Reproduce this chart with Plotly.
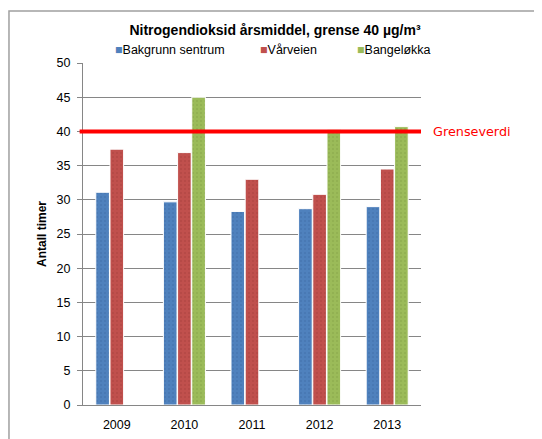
import plotly.graph_objects as go

years = ["2009", "2010", "2011", "2012", "2013"]
bakgrunn = [31.1, 29.7, 28.3, 28.7, 29.0]
varveien = [37.4, 36.9, 33.0, 30.8, 34.5]
bangelokka = [None, 45.0, None, 40.3, 40.7]
series_names = ["Bakgrunn sentrum", "Vårveien", "Bangeløkka"]
colors = ["#4F81BD", "#C0504D", "#9BBB59"]
dark = ["#3E6BA3", "#A33F3C", "#82A045"]
grense = 40

font = "Liberation Sans"
fig = go.Figure()
for name, vals, c, d in zip(series_names, [bakgrunn, varveien, bangelokka], colors, dark):
    fig.add_trace(go.Bar(
        x=years, y=vals, name=name,
        marker=dict(color=c, line=dict(color="white", width=1),
                    pattern=dict(shape=".", fgcolor=d, bgcolor=c, size=4, solidity=0.2)),
    ))

# compact legend drawn as text (like the original)
legend_x = [0.089, 0.518, 0.805]
for name, c, lx in zip(series_names, colors, legend_x):
    fig.add_annotation(xref="paper", yref="paper", x=lx, y=1.038, xanchor="left", yanchor="middle",
                       showarrow=False,
                       text=f"<span style='color:{c}'>■</span>{name}",
                       font=dict(family=font, size=12.5, color="black"))

fig.add_shape(type="line", xref="paper", yref="y", x0=-0.01, x1=1.0, y0=grense, y1=grense,
              line=dict(color="#FF0000", width=4))
fig.add_annotation(xref="paper", yref="y", x=1.03, y=grense, text="Grenseverdi",
                   showarrow=False, xanchor="left", yanchor="middle",
                   font=dict(family="DejaVu Sans", size=12.8, color="#FF0000"))
# outer chart border
fig.add_shape(type="rect", xref="paper", yref="paper", x0=-0.219, x1=1.5, y0=-0.2, y1=1.152,
              line=dict(color="#A0A0A0", width=1.5), layer="below")

# page body has an 8px default margin, so the figure is sized to fit the 542x439 window
fig.update_layout(
    width=534, height=431,
    margin=dict(l=75, r=121, t=55, b=34),
    paper_bgcolor="white", plot_bgcolor="white",
    font=dict(family=font, size=12, color="black"),
    title=dict(text="<b>Nitrogendioksid årsmiddel, grense 40 µg/m³</b>", x=0.5, xanchor="center",
               y=1 - 22 / 431, yanchor="middle", font=dict(size=14, family=font)),
    barmode="group", bargap=0.37, bargroupgap=0.04,
    showlegend=False,
    xaxis=dict(showline=True, linecolor="#868686", linewidth=1, ticks="", showgrid=False,
               tickfont=dict(size=12.5), ticklabelstandoff=8, automargin=False),
    yaxis=dict(range=[0, 50], dtick=5, showgrid=True, gridcolor="#868686", gridwidth=1,
               showline=True, linecolor="#868686", linewidth=1, ticks="outside", ticklen=5,
               tickcolor="#868686", zeroline=False, tickfont=dict(size=12.5),
               ticklabelstandoff=4, automargin=False,
               title=dict(text="<b>Antall timer</b>", font=dict(size=12), standoff=7)),
)
fig.write_html("out.html")
